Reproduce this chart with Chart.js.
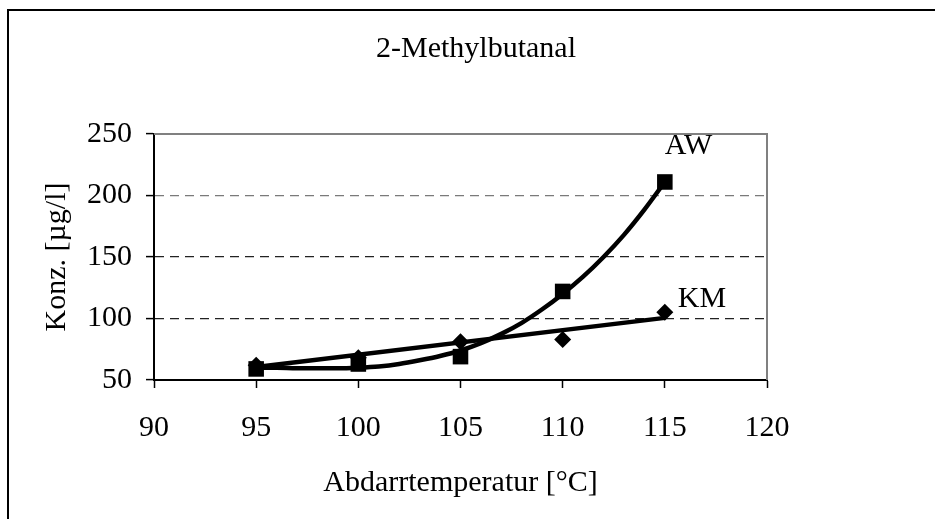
<!DOCTYPE html>
<html>
<head>
<meta charset="utf-8">
<script src="https://cdn.jsdelivr.net/npm/chart.js@4/dist/chart.umd.min.js"></script>
<style>
  html, body { margin: 0; padding: 0; background: #ffffff; }
  #wrap { width: 935px; height: 519px; position: relative; }
  canvas { display: block; }
</style>
</head>
<body>
<div id="wrap"><canvas id="c" width="935" height="519"></canvas></div>
<script>
// ---- data ----
const TITLE = '2-Methylbutanal';
const X_TITLE = 'Abdarrtemperatur [°C]';
const Y_TITLE = 'Konz. [µg/l]';
const seriesNames = ['AW', 'KM'];
const temperatures = [95, 100, 105, 110, 115];
const awValues = [59, 63, 69, 122, 211];
const kmValues = [62, 68, 81, 83, 105];
// trend lines
const awTrendX = [95, 96, 97, 98, 99, 100, 101, 102, 103, 104, 105, 106, 107, 108, 109, 110, 111, 112, 113, 114, 115];
const awTrendY = [60, 60, 59.5, 59.5, 59.5, 60, 61, 63, 66, 69.5, 74, 80, 87.5, 96.5, 107.5, 120, 134, 150, 168, 188.5, 211];
const kmTrendX = [95, 115];
const kmTrendY = [60.5, 100.5];
const xTicks = [90, 95, 100, 105, 110, 115, 120];
const yTicks = [50, 100, 150, 200, 250];

const FONT_FAMILY = "'Liberation Serif', 'Times New Roman', Times, serif";
const FONT_SIZE = 30;

const toPoints = (xs, ys) => xs.map((x, i) => ({ x: x, y: ys[i] }));

const framePlugin = {
  id: 'frame',
  beforeDraw(chart) {
    const ctx = chart.ctx;
    ctx.save();
    ctx.fillStyle = '#ffffff';
    ctx.fillRect(0, 0, chart.width, chart.height);
    ctx.fillStyle = '#000000';
    ctx.fillRect(7, 9, chart.width - 7, 2);
    ctx.fillRect(7, 9, 2, chart.height - 9);
    ctx.restore();
  },
  beforeDatasetsDraw(chart) {
    const a = chart.chartArea;
    const ctx = chart.ctx;
    ctx.save();
    ctx.strokeStyle = '#808080';
    ctx.lineWidth = 2;
    ctx.beginPath();
    ctx.moveTo(a.left, a.top);
    ctx.lineTo(a.right, a.top);
    ctx.lineTo(a.right, a.bottom);
    ctx.stroke();
    ctx.restore();
  },
  afterDraw(chart) {
    const ctx = chart.ctx;
    ctx.save();
    ctx.fillStyle = '#000000';
    ctx.font = FONT_SIZE + 'px ' + FONT_FAMILY;
    ctx.textAlign = 'center';
    ctx.textBaseline = 'alphabetic';
    ctx.fillText(TITLE, 476, 57);
    // series labels next to the last marker of each series
    const offsets = [[0, -28], [13, -5]];
    ctx.textAlign = 'left';
    [0, 1].forEach((di) => {
      const meta = chart.getDatasetMeta(di);
      const el = meta.data[meta.data.length - 1];
      ctx.fillText(seriesNames[di], el.x + offsets[di][0], el.y + offsets[di][1]);
    });
    ctx.restore();
  }
};

new Chart(document.getElementById('c'), {
  type: 'scatter',
  data: {
    datasets: [
      {
        label: seriesNames[0],
        data: toPoints(temperatures, awValues),
        pointStyle: 'rect',
        pointRadius: 11,
        pointBackgroundColor: '#000',
        pointBorderColor: '#000',
        pointBorderWidth: 0,
        showLine: false,
        order: 0
      },
      {
        label: seriesNames[1],
        data: toPoints(temperatures, kmValues),
        pointStyle: 'rectRot',
        pointRadius: 8.5,
        pointBackgroundColor: '#000',
        pointBorderColor: '#000',
        pointBorderWidth: 0,
        showLine: false,
        order: 1
      },
      {
        label: seriesNames[0] + ' Trend',
        data: toPoints(awTrendX, awTrendY),
        showLine: true,
        borderColor: '#000',
        borderWidth: 4.5,
        pointRadius: 0,
        cubicInterpolationMode: 'monotone',
        fill: false,
        order: 2
      },
      {
        label: seriesNames[1] + ' Trend',
        data: toPoints(kmTrendX, kmTrendY),
        showLine: true,
        borderColor: '#000',
        borderWidth: 4.5,
        pointRadius: 0,
        tension: 0,
        fill: false,
        order: 3
      }
    ]
  },
  options: {
    responsive: false,
    devicePixelRatio: 1,
    animation: false,
    layout: { padding: { left: 0, top: 134, right: 168, bottom: 0 } },
    plugins: {
      legend: { display: false },
      tooltip: { enabled: false },
      title: { display: false }
    },
    font: { family: FONT_FAMILY, size: FONT_SIZE },
    scales: {
      x: {
        type: 'linear',
        min: xTicks[0],
        max: xTicks[xTicks.length - 1],
        afterBuildTicks: (s) => { s.ticks = xTicks.map(v => ({ value: v })); },
        afterFit: (s) => { s.height = 139; },
        grid: {
          drawOnChartArea: false,
          drawTicks: true,
          tickLength: 8,
          tickColor: '#000',
          tickWidth: 1.5
        },
        border: { display: true, color: '#000', width: 2 },
        ticks: {
          color: '#000',
          padding: 22,
          maxRotation: 0,
          autoSkip: false,
          font: { family: FONT_FAMILY, size: FONT_SIZE, lineHeight: 1.2 }
        },
        title: {
          display: true,
          text: X_TITLE,
          color: '#000',
          padding: { top: 0, bottom: 18 },
          font: { family: FONT_FAMILY, size: FONT_SIZE, lineHeight: 1.2 }
        }
      },
      y: {
        type: 'linear',
        min: yTicks[0],
        max: yTicks[yTicks.length - 1],
        afterBuildTicks: (s) => { s.ticks = yTicks.map(v => ({ value: v })); },
        afterFit: (s) => { s.width = 154; },
        grid: {
          drawOnChartArea: true,
          drawTicks: true,
          tickLength: 8,
          tickColor: '#000',
          tickWidth: 1.5,
          tickBorderDash: [],
          lineWidth: 1.2,
          color: (c) => {
            const v = c.tick ? c.tick.value : null;
            if (v === 200) return '#7a7a7a';
            if (v === 100 || v === 150) return '#222222';
            return 'rgba(0,0,0,0)';
          }
        },
        border: { display: true, color: '#000', width: 2, dash: [9, 6] },
        ticks: {
          color: '#000',
          padding: 14,
          autoSkip: false,
          font: { family: FONT_FAMILY, size: FONT_SIZE, lineHeight: 1.2 }
        },
        title: {
          display: true,
          text: Y_TITLE,
          color: '#000',
          padding: { top: 39, bottom: 0 },
          font: { family: FONT_FAMILY, size: FONT_SIZE, lineHeight: 1.2 }
        }
      }
    }
  },
  plugins: [framePlugin]
});
</script>
</body>
</html>
